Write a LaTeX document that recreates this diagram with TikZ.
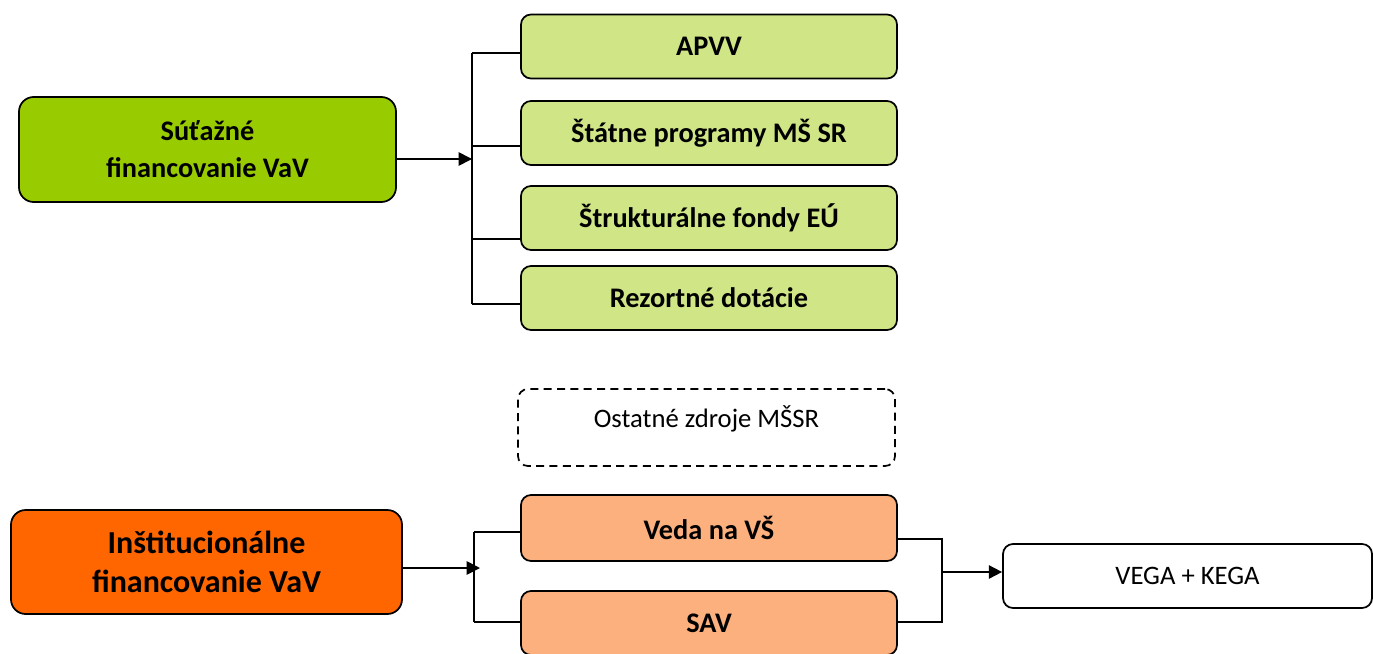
\documentclass[tikz,border=0pt]{standalone}
\usepackage{fontspec}
\setmainfont{Carlito}
\usetikzlibrary{arrows.meta}
\definecolor{sutgreen}{HTML}{99CC00}
\definecolor{subgreen}{HTML}{D0E585}
\definecolor{instorange}{HTML}{FF6600}
\definecolor{suborange}{HTML}{FCB07E}

\begin{document}
\begin{tikzpicture}
  [x=0.75pt,y=-0.75pt,line width=1.3pt,
   every node/.style={draw,font=\fontsize{20}{24}\selectfont,align=center},
   mainbox/.style={rounded corners=11pt,font=\bfseries\fontsize{21.25}{27.75}\selectfont},
   subbox/.style={rounded corners=7.5pt,minimum width=282pt,minimum height=48pt,font=\bfseries\fontsize{21.25}{24}\selectfont},
   arr/.style={-{Triangle[length=10pt,width=10pt]}}]
  \useasboundingbox (0,0) rectangle (1373,653);

  % competitive funding
  \node[mainbox,fill=sutgreen,minimum width=282.75pt,minimum height=78.75pt] (sut) at (207.5,149.5) {Súťažné\\financovanie VaV};
  \node[subbox,fill=subgreen] (apvv) at (709,46.5) {APVV};
  \node[subbox,fill=subgreen] (stat) at (709,133) {Štátne programy MŠ SR};
  \node[subbox,fill=subgreen] (strukt) at (709,218) {Štrukturálne fondy EÚ};
  \node[subbox,fill=subgreen] (rez) at (709,298) {Rezortné dotácie};
  \coordinate (brT) at (472,53);
  \coordinate (brB) at (472,304);
  \draw (brT) -- (brB);
  \foreach \n/\y in {apvv/53,stat/146,strukt/239,rez/304}
    \draw (brT |- 0,\y) -- (\n.west |- 0,\y);
  \draw[arr] (sut.east |- 0,159) -- (brT |- 0,159);

  % other sources
  \node[dash pattern=on 6pt off 4pt,rounded corners=7.5pt,minimum width=282.75pt,minimum height=57.75pt,text depth=16pt] (ost) at (706.5,427.5) {Ostatné zdroje MŠSR};

  % institutional funding
  \node[mainbox,fill=instorange,minimum width=293.25pt,minimum height=78pt,font=\bfseries\fontsize{24}{29}\selectfont] (inst) at (206.5,562) {Inštitucionálne\\financovanie VaV};
  \node[subbox,fill=suborange,minimum height=49.5pt] (veda) at (709,528) {Veda na VŠ};
  \node[subbox,fill=suborange] (sav) at (709,623) {SAV};
  \node[rounded corners=7.5pt,minimum width=276.75pt,minimum height=48pt] (vega) at (1187.5,576) {VEGA + KEGA};
  \coordinate (blT) at (474,532);
  \coordinate (blB) at (474,622);
  \draw (blT) -- (blB);
  \draw (blT) -- (veda.west |- blT);
  \draw (blB) -- (sav.west |- blB);
  \draw[arr] (inst.east |- 0,568) -- (480,568);
  \coordinate (brR) at (942,539);
  \draw (veda.east |- brR) -- (brR) |- (sav.east |- 0,622);
  \draw[arr] (brR |- 0,572) -- (vega.west |- 0,572);
\end{tikzpicture}
\end{document}
